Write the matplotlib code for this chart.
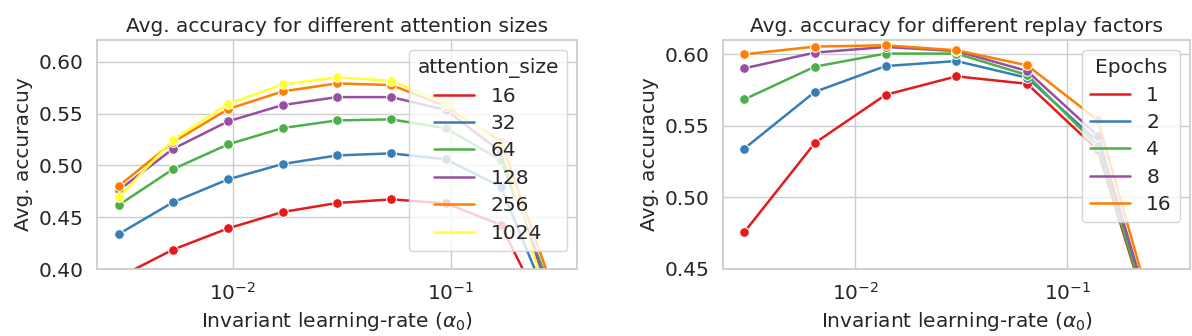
import pandas as pd
import matplotlib
matplotlib.use("Agg")
import matplotlib.pyplot as plt
from matplotlib.lines import Line2D
import seaborn as sns

# ------------------------------------------------------------
# Sweep results: average accuracy vs. invariant learning rate
# ------------------------------------------------------------
lr_attention = [0.003, 0.0053, 0.0095, 0.0169, 0.03, 0.0533, 0.0949, 0.169, 0.3]
attention_sizes = [16, 32, 64, 128, 256, 1024]
acc_attention = {
    16:   [0.392, 0.4186, 0.4392, 0.4550, 0.4637, 0.4672, 0.4634, 0.4425, 0.337],
    32:   [0.4338, 0.4643, 0.4865, 0.5013, 0.5096, 0.5116, 0.5058, 0.4794, 0.352],
    64:   [0.4618, 0.4962, 0.5203, 0.5360, 0.5434, 0.5444, 0.5357, 0.5050, 0.370],
    128:  [0.4760, 0.5158, 0.5425, 0.5582, 0.5659, 0.5659, 0.5534, 0.5130, 0.360],
    256:  [0.4801, 0.5222, 0.5543, 0.5714, 0.5791, 0.5775, 0.5570, 0.5230, 0.375],
    1024: [0.4691, 0.5244, 0.5592, 0.5781, 0.5849, 0.5817, 0.5600, 0.5200, 0.344],
}

lr_replay = [0.003, 0.00646, 0.0139, 0.03, 0.0646, 0.139, 0.3]
epochs = [1, 2, 4, 8, 16]
acc_replay = {
    1:  [0.4757, 0.5381, 0.5717, 0.5846, 0.5794, 0.533, 0.372],
    2:  [0.5341, 0.5738, 0.5918, 0.5953, 0.5836, 0.539, 0.374],
    4:  [0.5685, 0.5914, 0.6005, 0.6005, 0.5855, 0.536, 0.372],
    8:  [0.5902, 0.6012, 0.6051, 0.6023, 0.5883, 0.543, 0.376],
    16: [0.6000, 0.6054, 0.6063, 0.6028, 0.5923, 0.554, 0.380],
}


def to_frame(lrs, results, hue_name):
    rows = []
    for key, accs in results.items():
        for lr, acc in zip(lrs, accs):
            rows.append({"lr": lr, "acc": acc, hue_name: str(key)})
    return pd.DataFrame(rows)


def line_legend(ax, keys, title, colors):
    # legend entries drawn as plain lines (no markers)
    handles = [Line2D([], [], color=c, lw=1.8) for c in colors]
    ax.legend(handles, [str(k) for k in keys], title=title, loc="upper right",
              labelspacing=0.42)


df_attention = to_frame(lr_attention, acc_attention, "attention_size")
df_replay = to_frame(lr_replay, acc_replay, "Epochs")

sns.set_theme(style="whitegrid")
plt.rcParams["font.family"] = ["DejaVu Sans"]
fs = 14.5
plt.rcParams.update({
    "axes.titlesize": fs,
    "axes.labelsize": fs,
    "xtick.labelsize": fs,
    "ytick.labelsize": fs,
    "legend.fontsize": fs,
    "legend.title_fontsize": fs,
})

colors = sns.color_palette("Set1", 6)

fig, (ax1, ax2) = plt.subplots(1, 2, figsize=(11.92, 3.36), dpi=100)

sns.lineplot(data=df_attention, x="lr", y="acc", hue="attention_size",
             palette=colors[:len(attention_sizes)], marker="o", markersize=7,
             linewidth=1.8, ax=ax1)
ax1.set_xscale("log")
ax1.set_ylim(0.40, 0.621)
ax1.set_title("Avg. accuracy for different attention sizes")
ax1.set_xlabel(r"Invariant learning-rate ($\alpha_0$)")
ax1.set_ylabel("Avg. accuracuy")
line_legend(ax1, attention_sizes, "attention_size", colors[:len(attention_sizes)])

sns.lineplot(data=df_replay, x="lr", y="acc", hue="Epochs",
             palette=colors[:len(epochs)], marker="o", markersize=7,
             linewidth=1.8, ax=ax2)
ax2.set_xscale("log")
ax2.set_ylim(0.45, 0.61)
ax2.set_yticks([0.45, 0.50, 0.55, 0.60])
ax2.set_title("Avg. accuracy for different replay factors")
ax2.set_xlabel(r"Invariant learning-rate ($\alpha_0$)")
ax2.set_ylabel("Avg. accuracuy")
line_legend(ax2, epochs, "Epochs", colors[:len(epochs)])

# axes boxes in figure fractions
ax1.set_position([97 / 1192, 67 / 336, 480 / 1192, 229 / 336])
ax2.set_position([723 / 1192, 67 / 336, 467 / 1192, 229 / 336])

fig.savefig("out.png", dpi=100)
